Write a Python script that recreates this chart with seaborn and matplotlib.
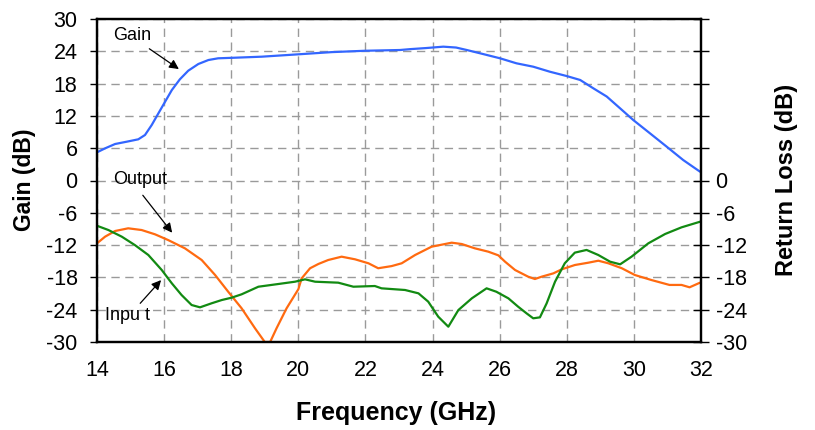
import matplotlib
matplotlib.use("Agg")
import matplotlib.pyplot as plt
import seaborn as sns
import pandas as pd
from matplotlib.ticker import FixedLocator, FuncFormatter

# Measured S-parameters of the amplifier (frequency in GHz, levels in dB)
gain_freq = [13.94, 14.24, 14.54, 14.88, 15.23, 15.43, 15.63, 15.83, 16.03, 16.23, 16.47, 16.72,
             17.02, 17.32, 17.61, 18.11, 18.91, 20.0, 21.0, 21.99, 23.03, 23.33, 23.8, 24.32,
             24.7, 25.02, 25.5, 26.01, 26.5, 27.0, 27.5, 28.0, 28.4, 28.79, 29.19, 29.59,
             29.98, 30.48, 30.98, 31.47, 31.97]
gain_db = [5.05, 5.97, 6.78, 7.2, 7.65, 8.45, 10.3, 12.48, 14.64, 16.8, 18.8, 20.4,
           21.64, 22.38, 22.7, 22.81, 23.0, 23.44, 23.85, 24.1, 24.24, 24.4, 24.6, 24.86,
           24.7, 24.24, 23.5, 22.7, 21.77, 21.14, 20.2, 19.4, 18.67, 17.13, 15.6, 13.4,
           11.24, 8.76, 6.27, 3.8, 1.64]

output_freq = [13.94, 14.24, 14.54, 14.93, 15.33, 15.73, 16.12, 16.62, 17.12, 17.52, 17.91, 18.31,
               18.71, 19.0, 19.16, 19.35, 19.65, 20.0, 20.1, 20.35, 20.6, 20.89, 21.29, 21.69,
               22.09, 22.38, 22.78, 23.08, 23.48, 23.97, 24.57, 24.87, 25.26, 25.66, 25.96,
               26.16, 26.46, 26.85, 27.05, 27.25, 27.6, 27.85, 28.24, 28.64, 28.94, 29.24,
               29.64, 30.03, 30.53, 31.06, 31.42, 31.66, 31.97]
output_db = [-11.98, -10.44, -9.38, -8.88, -9.2, -10.0, -11.06, -12.6, -14.77, -17.56, -20.66, -23.74,
             -27.46, -30.0, -30.0, -27.46, -23.74, -20.2, -18.17, -16.3, -15.5, -14.77, -14.15, -14.64,
             -15.38, -16.3, -15.9, -15.38, -13.84, -12.3, -11.55, -11.8, -12.6, -13.22, -13.9,
             -15.08, -16.63, -17.87, -18.3, -17.87, -17.25, -16.5, -15.7, -15.27, -14.9, -15.38,
             -16.3, -17.56, -18.5, -19.4, -19.4, -19.84, -18.98]

input_freq = [13.94, 14.34, 14.74, 15.13, 15.53, 15.93, 16.23, 16.52, 16.82, 17.07, 17.42, 17.72,
              18.01, 18.31, 18.81, 19.4, 19.9, 20.2, 20.5, 21.19, 21.64, 22.28, 22.48, 23.18,
              23.58, 23.87, 24.17, 24.47, 24.77, 25.17, 25.61, 25.9, 26.26, 26.55, 26.8, 27.0,
              27.2, 27.4, 27.65, 27.94, 28.24, 28.59, 28.94, 29.29, 29.59, 29.93, 30.43, 30.93,
              31.42, 31.97]
input_db = [-8.27, -9.2, -10.44, -12.0, -13.84, -16.63, -19.1, -21.27, -23.13, -23.56, -22.8, -22.2,
            -21.77, -21.14, -19.73, -19.23, -18.8, -18.36, -18.8, -18.98, -19.73, -19.6, -20.03, -20.34,
            -20.96, -22.5, -25.3, -27.16, -24.06, -21.89, -20.03, -20.66, -21.89, -23.44, -24.67, -25.6,
            -25.42, -22.82, -18.8, -15.38, -13.4, -12.9, -13.84, -15.08, -15.57, -14.15, -11.67, -9.94,
            -8.7, -7.66]

freq_ticks = [14, 16, 18, 20, 22, 24, 26, 28, 30, 32]
db_ticks = [-30, -24, -18, -12, -6, 0, 6, 12, 18, 24, 30]

sns.set_style("white")
plt.rcParams["font.family"] = ["Liberation Sans", "DejaVu Sans"]
plt.rcParams["axes.unicode_minus"] = False
plt.rcParams["text.color"] = "black"
plt.rcParams["xtick.color"] = "black"
plt.rcParams["ytick.color"] = "black"
plt.rcParams["xtick.labelcolor"] = "black"
plt.rcParams["ytick.labelcolor"] = "black"

fig = plt.figure(figsize=(8.15, 4.30), dpi=100)
ax = fig.add_axes([97 / 815, 88 / 430, 604 / 815, 323 / 430])

gain_df = pd.DataFrame({"Frequency": gain_freq, "dB": gain_db})
out_df = pd.DataFrame({"Frequency": output_freq, "dB": output_db})
in_df = pd.DataFrame({"Frequency": input_freq, "dB": input_db})

sns.lineplot(data=gain_df, x="Frequency", y="dB", ax=ax, color="#3366FF", lw=1.6, sort=False)
sns.lineplot(data=out_df, x="Frequency", y="dB", ax=ax, color="#FF6A10", lw=1.6, sort=False)
sns.lineplot(data=in_df, x="Frequency", y="dB", ax=ax, color="#128A12", lw=1.6, sort=False)

ax.set_xlim(14, 32)
ax.set_ylim(-30, 30)
ax.set_xticks(freq_ticks)
ax.set_yticks(db_ticks)
ax.set_xlabel("")
ax.set_ylabel("")
ax.grid(True, linestyle=(0, (6, 4)), color="#9a9a9a", lw=1.0)
ax.tick_params(axis="x", length=0, pad=13, labelsize=15.5, labelcolor="black")
ax.tick_params(axis="y", direction="out", length=5, width=1, pad=9, labelsize=15.5,
               color="black", labelcolor="black")
for side in ["left", "right", "top", "bottom"]:
    ax.spines[side].set_visible(True)
    ax.spines[side].set_color("black")
    ax.spines[side].set_linewidth(1.6)

# Secondary scale for the return loss
ax2 = ax.twinx()
ax2.set_ylim(-30, 30)
ax2.yaxis.set_major_locator(FixedLocator(db_ticks))
ax2.yaxis.set_major_formatter(FuncFormatter(lambda v, p: f"{v:.0f}" if v <= 0 else ""))
ax2.tick_params(axis="y", direction="inout", length=11, width=1, pad=5, labelsize=15.5,
                color="black", labelcolor="black")
ax2.grid(False)
for side in ["left", "right", "top", "bottom"]:
    ax2.spines[side].set_visible(True)
    ax2.spines[side].set_color("black")
    ax2.spines[side].set_linewidth(1.6)

fig.text(25 / 815, 1 - 180 / 430, "Gain (dB)", rotation=90, ha="center", va="center",
         fontsize=16.5, fontweight="bold", color="black")
fig.text(787 / 815, 1 - 180 / 430, "Return Loss (dB)", rotation=90, ha="center", va="center",
         fontsize=17, fontweight="bold", color="black")
fig.text(396 / 815, 1 - 413 / 430, "Frequency (GHz)", ha="center", va="center",
         fontsize=18, fontweight="bold", color="black")

arrow = dict(arrowstyle="-|>", color="black", lw=0.9, mutation_scale=14, shrinkA=0, shrinkB=0)
ax.annotate("Gain", xy=(16.44, 20.7), xytext=(14.48, 27.0), fontsize=13, color="black",
            ha="left", va="center", arrowprops=dict(arrow, relpos=(0.95, -0.3)))
ax.annotate("Output", xy=(16.24, -9.7), xytext=(14.48, 0.1), fontsize=13, color="black",
            ha="left", va="center", arrowprops=dict(arrow, relpos=(0.55, -0.4)))
ax.annotate("Inpu t", xy=(15.91, -18.5), xytext=(14.24, -25.0), fontsize=13, color="black",
            ha="left", va="center", arrowprops=dict(arrow, relpos=(0.75, 1.1)))

fig.savefig("out.png", dpi=100)
